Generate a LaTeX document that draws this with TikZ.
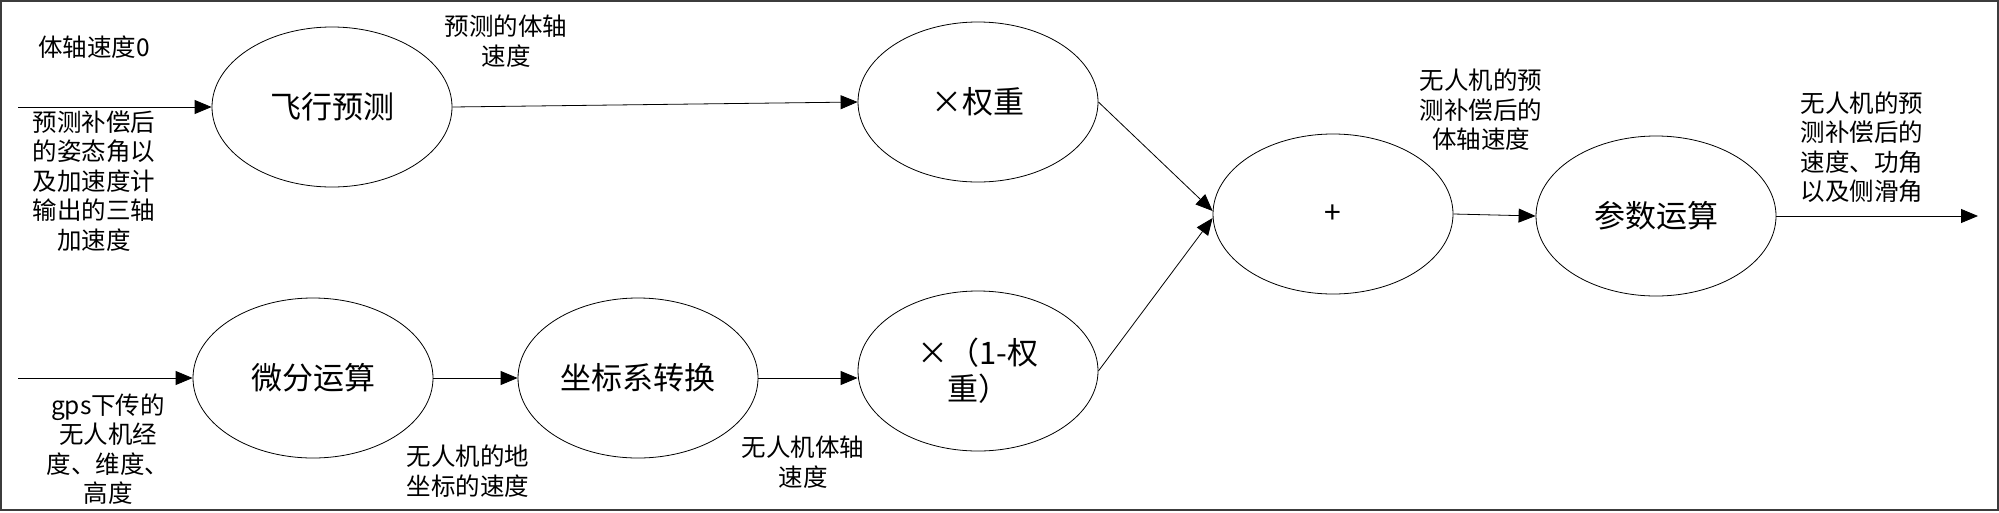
\documentclass[tikz,border=0pt]{standalone}
\usepackage{fontspec}
\usetikzlibrary{arrows.meta, calc, positioning, shapes.geometric}
\newfontfamily\cjk{Noto Sans CJK SC}
\definecolor{frameGray}{RGB}{60,60,60}

\begin{document}
\begin{tikzpicture}[x=1pt, y=-1pt,
    blk/.style={ellipse, draw, line width=0.8pt, inner sep=0pt,
        minimum width=240pt, minimum height=160pt,
        font=\cjk\fontsize{31}{36}\selectfont},
    lbl/.style={align=center, inner sep=0pt,
        font=\cjk\fontsize{24.5}{29.5}\selectfont},
    flow/.style={line width=0.8pt, -{Triangle[length=17pt, width=14pt]}}]
    \useasboundingbox (0,0) rectangle (1999,512);
    \draw[line width=2pt, frameGray] (1,1) rectangle (1998,510);

    % Blocks
    \node[blk] (fly) at (332,107) {飞行预测};
    \node[blk] (diff) at (313,378) {微分运算};
    \node[blk] (conv) at (638,378) {坐标系转换};
    \node[blk] (wt) at (978,102) {×权重};
    \node[blk, align=center] (wtc) at (978,371) {×（1-权\\重）};
    \node[blk, font=\cjk\fontsize{30}{34}\selectfont] (sum) at (1333,214) {+};
    \node[blk] (param) at (1656,216) {参数运算};

    % Free ends
    \coordinate (inA) at (18,107);
    \coordinate (inB) at (18,378);
    \coordinate (out) at (1978,216);

    % Arrows
    \draw[flow] (inA) -- (fly.west);
    \draw[flow] (inB) -- (diff.west);
    \draw[flow] (fly.east) -- (wt.west);
    \draw[flow] (diff.east) -- (conv.west);
    \draw[flow] (conv.east) -- (conv.east -| wtc.west);
    \draw[flow] (wt.east) -- ($(sum.west)+(0,-3)$);
    \draw[flow] (wtc.east) -- ($(sum.west)+(0,4)$);
    \draw[flow] (sum.east) -- (param.west);
    \draw[flow] (param.east) -- (out);

    % Labels
    \node[lbl] (lv0) at (94,47) {体轴速度0};
    \node[lbl] (latt) at (94,181) {预测补偿后\\的姿态角以\\及加速度计\\输出的三轴\\加速度};
    \node[lbl] (lpred) at (506,41) {预测的体轴\\速度};
    \node[lbl] (lgps) at (108,449) {gps下传的\\无人机经\\度、维度、\\高度};
    \node[lbl] (lground) at (468,471) {无人机的地\\坐标的速度};
    \node[lbl] (lbody) at (803,462) {无人机体轴\\速度};
    \node[lbl] (lcomp) at (1481,110) {无人机的预\\测补偿后的\\体轴速度};
    \node[lbl] (lout) at (1862,147) {无人机的预\\测补偿后的\\速度、功角\\以及侧滑角};
\end{tikzpicture}
\end{document}
